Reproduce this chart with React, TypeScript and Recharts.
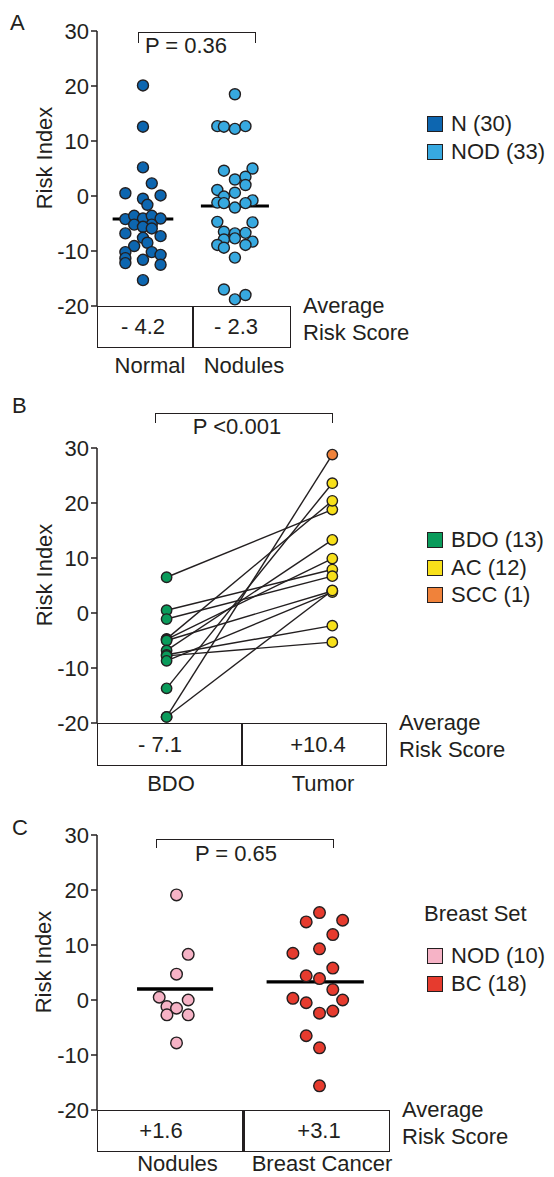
import React from "react";
import { ScatterChart, Scatter, XAxis, YAxis, ReferenceLine } from "recharts";

const INK = "#231f20";
const FONT = "'Liberation Sans', Arial, Helvetica, sans-serif";
const FS = 22;

const riskTicks = [-20, -10, 0, 10, 20, 30];

// A — lung set
const lungGroups = ["Normal", "Nodules"];
const lungAverage = ["- 4.2", "- 2.3"];
const lungMeanLine = [-4.2, -1.8];
const normalRisk = [20.1, 12.6, 5.2, 2.3, 0.5, 0.1, -0.5, -1.6, -4.2, -3.6, -4.1, -3.6, -4.1, -5.2, -5.2, -5.6, -5.9, -6.8, -7.3, -7.6, -8.5, -9.1, -10.2, -10.2, -10.7, -11.3, -11.6, -12.2, -12.5, -15.3];
const normalSpread = [0, 0, 0, 1, -2, 2, 0, 0.5, -2, -1, 0, 1, 2, -1, 1, 0, 1, -2, 2, 0, 0.5, -1, -2, 1, 2, -2, 0, -2, 2, 0];
const noduleRisk = [18.5, 12.7, 12.6, 12.2, 12.7, 5.0, 4.6, 3.0, 3.5, 2.0, 1.1, 0.6, -0.1, -1.2, -0.8, -1.3, -1.3, -2.1, -4.7, -4.8, -6.5, -6.8, -6.7, -7.9, -7.7, -8.9, -8.3, -9.4, -8.9, -11.2, -17.0, -18.0, -18.8];
const noduleSpread = [0, -2, -1.25, 0, 1.2, 2, -1.25, 0, 1.2, 1.2, -2, 0, -1.25, -2, 2, 1.2, -1.25, 0, -2, 2, -1.25, 0, 1.2, -1.25, 0, -2, 2, -1.25, 1.2, 0, -1.25, 1.2, 0];

// B — paired BDO / tumor
const pairedGroups = ["BDO", "Tumor"];
const pairedAverage = ["- 7.1", "+10.4"];
const bdoRisk = [6.5, 0.5, -1.1, -4.7, -4.8, -5.0, -6.8, -7.6, -7.8, -8.7, -13.7, -18.9, -18.9];
const tumorRisk = [18.8, 7.9, 6.7, 20.4, 9.9, 4.0, 13.3, -2.3, -5.3, 3.8, 23.6, 28.8, 4.1];
const tumorType = ["AC", "AC", "AC", "AC", "AC", "AC", "AC", "AC", "AC", "AC", "AC", "SCC", "AC"];

// C — breast set
const breastGroups = ["Nodules", "Breast Cancer"];
const breastAverage = ["+1.6", "+3.1"];
const breastMeanLine = [2.0, 3.3];
const breastNodRisk = [19.1, 8.3, 4.7, 0.5, 0.0, -1.2, -1.5, -2.7, -2.7, -7.8];
const breastNodSpread = [0, 0.88, 0, -1.3, 0.88, -0.72, 0, -0.72, 0.88, 0];
const bcRisk = [15.9, 14.2, 14.5, 11.9, 9.3, 8.5, 5.8, 4.4, 3.9, 1.9, 0.3, 0.0, -0.5, -2.4, -2.0, -6.5, -8.7, -15.6];
const bcSpread = [0, -1, 1.74, 1, 0, -2, 1, -1, 0, 1, -2, 1.74, -1, 0, 1, -1, 0, 0];

const C_N = "#0d66b0";
const C_NOD = "#37a9e0";
const C_BDO = "#0a9b5b";
const C_AC = "#f7e01a";
const C_SCC = "#f0823a";
const C_BNOD = "#f6b3c6";
const C_BC = "#e63b2e";

const dot = (fill: string, r: number) => (p: any) =>
  <circle cx={p.cx} cy={p.cy} r={r} fill={fill} stroke={INK} strokeWidth={1.4} />;

const swarm = (vals: number[], spread: number[], col: number, step: number) =>
  vals.map((y, i) => ({ x: col + spread[i] * step, y }));

const riskAxis = () => (
  <YAxis
    type="number"
    dataKey="y"
    domain={[-20, 30]}
    ticks={riskTicks}
    interval={0}
    width={60}
    tickSize={6}
    tickMargin={2}
    axisLine={{ stroke: INK, strokeWidth: 1.5 }}
    tickLine={{ stroke: INK, strokeWidth: 1.5 }}
    tick={{ fill: INK, fontSize: FS, fontFamily: FONT }}
  />
);

function Txt({ x, y, children, align = "center", size = FS }: any) {
  const tx = align === "center" ? "-50%" : align === "right" ? "-100%" : "0";
  return (
    <div style={{ position: "absolute", left: x, top: y, transform: `translate(${tx}, -50%)`, fontSize: size, lineHeight: 1, whiteSpace: "nowrap" }}>
      {children}
    </div>
  );
}

function AxisTitle({ x, y }: { x: number; y: number }) {
  return (
    <div style={{ position: "absolute", left: x, top: y, transform: "translate(-50%, -50%) rotate(-90deg)", fontSize: FS, lineHeight: 1, whiteSpace: "nowrap" }}>
      Risk Index
    </div>
  );
}

function Bracket({ x1, x2, y, drop }: any) {
  return (
    <div style={{ position: "absolute", left: x1, top: y, width: x2 - x1, height: drop, borderTop: `1.5px solid ${INK}`, borderLeft: `1.5px solid ${INK}`, borderRight: `1.5px solid ${INK}`, boxSizing: "border-box" }} />
  );
}

function ScoreBox({ x1, x2, xd, y1, y2, values, vx, labels, lx, ly, divW = 1.5 }: any) {
  return (
    <>
      <div style={{ position: "absolute", left: x1, top: y1, width: x2 - x1, height: y2 - y1, border: `1.5px solid ${INK}`, boxSizing: "border-box" }} />
      <div style={{ position: "absolute", left: xd - divW / 2, top: y1, width: divW, height: y2 - y1, background: INK }} />
      {values.map((v: string, i: number) => <Txt key={v} x={vx[i]} y={(y1 + y2) / 2}>{v}</Txt>)}
      {labels.map((v: string, i: number) => <Txt key={v} x={lx[i]} y={ly ?? y2 + 17.5}>{v}</Txt>)}
      <Txt x={x2 + 12} y={y1 - 0.5} align="left">Average</Txt>
      <Txt x={x2 + 12} y={y1 + 26.5} align="left">Risk Score</Txt>
    </>
  );
}

function LegendRow({ y, color, label }: any) {
  return (
    <>
      <div style={{ position: "absolute", left: 427, top: y - 8, width: 16, height: 16, background: color, border: `1px solid ${INK}`, boxSizing: "border-box" }} />
      <Txt x={451} y={y} align="left">{label}</Txt>
    </>
  );
}

export default function App() {
  const stepA = 0.0957;
  const stepC = 0.093;
  const normalData = swarm(normalRisk, normalSpread, 0.5, stepA);
  const noduleData = swarm(noduleRisk, noduleSpread, 1.5, stepA);
  const bnodData = swarm(breastNodRisk, breastNodSpread, 0.5, stepC);
  const bcData = swarm(bcRisk, bcSpread, 1.5, stepC);

  const bdoData = bdoRisk.map((y) => ({ x: 0, y }));
  const acData = tumorRisk.map((y, i) => ({ x: 1, y, t: tumorType[i] })).filter((d) => d.t === "AC");
  const sccData = tumorRisk.map((y, i) => ({ x: 1, y, t: tumorType[i] })).filter((d) => d.t === "SCC");

  return (
    <div style={{ position: "absolute", left: 0, top: 0, width: 554, height: 1177, background: "#fff", color: INK, fontFamily: FONT, overflow: "hidden" }}>
      {/* Panel A */}
      <div style={{ position: "absolute", left: 0, top: 0 }}>
        <ScatterChart width={554} height={320} margin={{ top: 31, right: 263, bottom: 14, left: 37 }}>
          <XAxis type="number" dataKey="x" domain={[0, 2.11]} hide />
          {riskAxis()}
          <ReferenceLine segment={[{ x: 0.5 - 0.33, y: lungMeanLine[0] }, { x: 0.5 + 0.33, y: lungMeanLine[0] }]} stroke="#000" strokeWidth={3} />
          <ReferenceLine segment={[{ x: 1.5 - 0.37, y: lungMeanLine[1] }, { x: 1.5 + 0.37, y: lungMeanLine[1] }]} stroke="#000" strokeWidth={3} />
          <Scatter data={normalData} shape={dot(C_N, 5.5)} isAnimationActive={false} />
          <Scatter data={noduleData} shape={dot(C_NOD, 5.5)} isAnimationActive={false} />
        </ScatterChart>
      </div>
      <Txt x={10} y={23} align="left">A</Txt>
      <AxisTitle x={45} y={158} />
      <Bracket x1={138} x2={256} y={32} drop={11} />
      <Txt x={186} y={46}>P = 0.36</Txt>
      <ScoreBox x1={97} x2={291} xd={193} y1={306} y2={348} values={lungAverage} vx={[143, 236]} labels={lungGroups} lx={[150, 244]} />
      <LegendRow y={124} color={C_N} label="N (30)" />
      <LegendRow y={152} color={C_NOD} label="NOD (33)" />

      {/* Panel B */}
      <div style={{ position: "absolute", left: 0, top: 380 }}>
        <ScatterChart width={554} height={357} margin={{ top: 68, right: 167, bottom: 14, left: 37 }}>
          <XAxis type="number" dataKey="x" domain={[-0.42, 1.33]} hide />
          {riskAxis()}
          {bdoRisk.map((b, i) => (
            <Scatter
              key={"pair" + i}
              data={[{ x: 0, y: b }, { x: 1, y: tumorRisk[i] }]}
              line={{ stroke: INK, strokeWidth: 1.4 }}
              shape={() => <g />}
              isAnimationActive={false}
            />
          ))}
          <Scatter data={bdoData} shape={dot(C_BDO, 5.2)} isAnimationActive={false} />
          <Scatter data={acData} shape={dot(C_AC, 5.2)} isAnimationActive={false} />
          <Scatter data={sccData} shape={dot(C_SCC, 5.2)} isAnimationActive={false} />
        </ScatterChart>
      </div>
      <Txt x={12} y={406} align="left">B</Txt>
      <AxisTitle x={45} y={575} />
      <Bracket x1={155} x2={333} y={413} drop={10} />
      <Txt x={237} y={426.5}>P &lt;0.001</Txt>
      <ScoreBox x1={97} x2={387} xd={242} y1={723} y2={766} values={pairedAverage} vx={[160, 318]} labels={pairedGroups} lx={[171, 323]} divW={2.5} />
      <LegendRow y={540} color={C_BDO} label="BDO (13)" />
      <LegendRow y={568} color={C_AC} label="AC (12)" />
      <LegendRow y={595} color={C_SCC} label="SCC (1)" />

      {/* Panel C */}
      <div style={{ position: "absolute", left: 0, top: 800 }}>
        <ScatterChart width={554} height={324} margin={{ top: 35, right: 164, bottom: 14, left: 37 }}>
          <XAxis type="number" dataKey="x" domain={[-0.056, 1.993]} hide />
          {riskAxis()}
          <ReferenceLine segment={[{ x: 0.49 - 0.266, y: breastMeanLine[0] }, { x: 0.49 + 0.266, y: breastMeanLine[0] }]} stroke="#000" strokeWidth={3.3} />
          <ReferenceLine segment={[{ x: 1.47 - 0.34, y: breastMeanLine[1] }, { x: 1.47 + 0.34, y: breastMeanLine[1] }]} stroke="#000" strokeWidth={3.3} />
          <Scatter data={bnodData} shape={dot(C_BNOD, 5.8)} isAnimationActive={false} />
          <Scatter data={bcData} shape={dot(C_BC, 5.8)} isAnimationActive={false} />
        </ScatterChart>
      </div>
      <Txt x={12} y={827.5} align="left">C</Txt>
      <AxisTitle x={44} y={962} />
      <Bracket x1={156} x2={334} y={839} drop={9} />
      <Txt x={236} y={854}>P = 0.65</Txt>
      <ScoreBox x1={97} x2={390} xd={243.6} y1={1110} y2={1152} values={breastAverage} vx={[161, 319]} labels={breastGroups} lx={[177.5, 322]} ly={1164} divW={2.5} />
      <Txt x={424} y={913.5} align="left">Breast Set</Txt>
      <LegendRow y={956} color={C_BNOD} label="NOD (10)" />
      <LegendRow y={984} color={C_BC} label="BC (18)" />
    </div>
  );
}
